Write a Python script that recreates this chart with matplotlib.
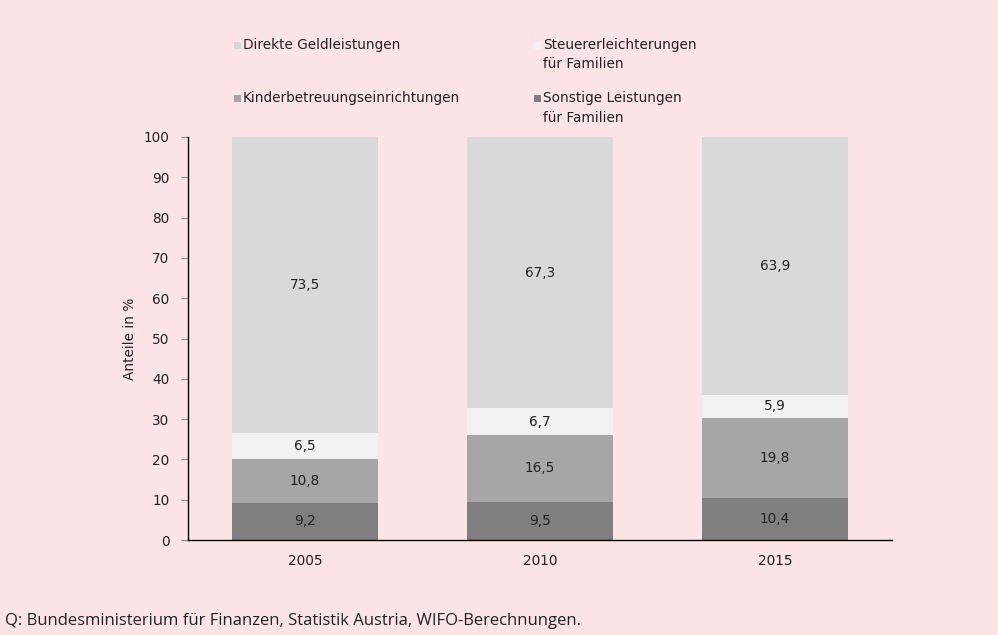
import matplotlib
matplotlib.use("Agg")
import matplotlib.pyplot as plt
from matplotlib.patches import Rectangle

years = ["2005", "2010", "2015"]
sonstige = [9.2, 9.5, 10.4]
kinder = [10.8, 16.5, 19.8]
steuer = [6.5, 6.7, 5.9]
direkt = [73.5, 67.3, 63.9]

series = [
    ("Sonstige Leistungen\nfür Familien", sonstige, "#7f7f7f"),
    ("Kinderbetreuungseinrichtungen", kinder, "#a6a6a6"),
    ("Steuererleichterungen\nfür Familien", steuer, "#f2f2f2"),
    ("Direkte Geldleistungen", direkt, "#d9d9d9"),
]

bg = "#fde4e6"
plt.rcParams['font.family'] = ['DejaVu Sans']
fs = 9.8
fig = plt.figure(figsize=(9.98, 6.35), dpi=100, facecolor=bg)
ax = fig.add_axes([187.5/998, 1-540/635, 705/998, 403/635])
ax.set_facecolor(bg)

x = list(range(len(years)))
bottom = [0]*len(years)
for name, vals, col in series:
    ax.bar(x, vals, width=0.625, bottom=bottom, color=col, linewidth=0)
    for i, v in enumerate(vals):
        ax.text(x[i], bottom[i] + v/2, f"{v:.1f}".replace(".", ","),
                ha="center", va="center", fontsize=fs, color="#222222")
    bottom = [b + v for b, v in zip(bottom, vals)]

ax.set_xlim(-0.5, 2.5)
ax.set_ylim(0, 100)
ax.set_yticks(range(0, 101, 10))
ax.set_xticks(x)
ax.set_xticklabels(years)
ax.tick_params(axis="y", direction="out", length=5, color="#888888", labelsize=fs, pad=8, labelcolor="#222222")
ax.tick_params(axis="x", length=0, labelsize=fs, pad=10, labelcolor="#222222")
for s in ["top", "right"]:
    ax.spines[s].set_visible(False)
for s in ["left", "bottom"]:
    ax.spines[s].set_color("black")
    ax.spines[s].set_linewidth(1.0)
ax.set_ylabel("Anteile in %", fontsize=fs, color="#222222", labelpad=5)

# legend (manual, marker aligned with first line)
legend_items = [
    (234, 45, "Direkte Geldleistungen", "#d9d9d9"),
    (534, 45, "Steuererleichterungen\nfür Familien", "#f2f2f2"),
    (234, 98, "Kinderbetreuungseinrichtungen", "#a6a6a6"),
    (534, 98, "Sonstige Leistungen\nfür Familien", "#7f7f7f"),
]
for px, py, label, col in legend_items:
    fig.patches.append(Rectangle((px/998, 1-(py+4)/635), 7/998, 7/635,
                                 transform=fig.transFigure, color=col, linewidth=0))
    fig.text((px+9)/998, 1-(py-7)/635, label, ha="left", va="top",
             fontsize=fs, color="#222222", linespacing=1.5)

fig.text(5/998, 1-621/635, "Q: Bundesministerium für Finanzen, Statistik Austria, WIFO-Berechnungen.",
         ha="left", va="center", fontsize=12, color="#222222", family=['Open Sans', 'DejaVu Sans'])

fig.savefig("out.png", dpi=100, facecolor=bg)
